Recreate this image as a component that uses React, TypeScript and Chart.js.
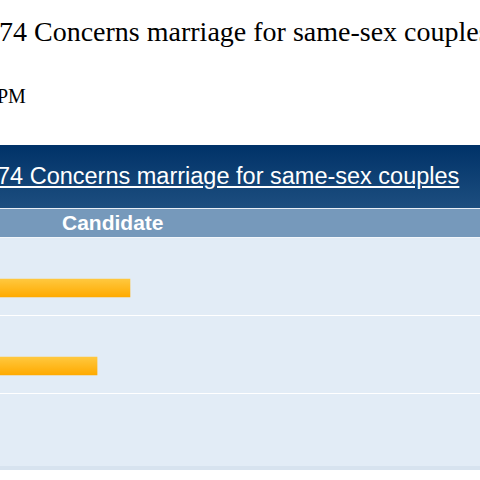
import React, { useEffect, useRef } from "react";
import { Chart, registerables } from "chart.js";

Chart.register(...registerables);

const pageTitle = "74 Concerns marriage for same-sex couples";
const timeLabel = "PM";
const tableTitle = "74 Concerns marriage for same-sex couples";
const columnHeader = "Candidate";
const categories = ["Approved", "Rejected", "Total"];
const percentValues: (number | null)[] = [53.7, 46.3, null];

const rowPlugin = {
  id: "rowBackgrounds",
  beforeDatasetsDraw(chart: any) {
    const { ctx, scales } = chart;
    const y = scales.y;
    ctx.save();
    for (let i = 0; i < categories.length; i++) {
      const c = y.getPixelForValue(i);
      ctx.fillStyle = "#e2ecf6";
      ctx.fillRect(0, c - 50, chart.width, 78);
      ctx.fillStyle = "#ffffff";
      if (i < categories.length - 1) ctx.fillRect(0, c + 27, chart.width, 1.5);
      else {
        ctx.fillStyle = "#d7e3ef";
        ctx.fillRect(0, c + 22, chart.width, 4);
        ctx.fillStyle = "#ffffff";
        ctx.fillRect(0, c + 26, chart.width, 40);
      }
    }
    ctx.restore();
  },
};

export default function App() {
  const ref = useRef<HTMLCanvasElement | null>(null);
  useEffect(() => {
    if (!ref.current) return;
    const chart = new Chart(ref.current, {
      type: "bar",
      data: {
        labels: categories,
        datasets: [
          {
            data: percentValues,
            barThickness: 18,
            borderWidth: 0,
            backgroundColor: (ctx: any) => {
              const ch = ctx.chart;
              const ys = ch.scales && ch.scales.y;
              if (!ys || ctx.dataIndex === undefined) return "#ffb400";
              const c = ys.getPixelForValue(ctx.dataIndex);
              if (!Number.isFinite(c)) return "#ffb400";
              const g = ch.ctx.createLinearGradient(0, c - 9, 0, c + 9);
              g.addColorStop(0, "#ffc83f");
              g.addColorStop(1, "#ffaa00");
              return g;
            },
          },
        ],
      },
      options: {
        indexAxis: "y",
        animation: false,
        responsive: false,
        devicePixelRatio: 1,
        layout: { padding: { top: 11, right: 144, left: 0, bottom: 0 } },
        plugins: { legend: { display: false }, tooltip: { enabled: false } },
        scales: {
          x: { display: false, min: 0, max: 100 },
          y: { display: false, offset: true },
        },
      },
      plugins: [rowPlugin],
    });
    chart.update();
    return () => chart.destroy();
  }, []);

  return (
    <div
      style={{
        position: "fixed",
        left: 0,
        top: 0,
        width: 480,
        height: 480,
        overflow: "hidden",
        background: "#ffffff",
      }}
    >
      <div
        style={{
          position: "absolute",
          left: -1,
          top: 14,
          whiteSpace: "nowrap",
          fontFamily: "'Liberation Serif', serif",
          fontSize: 28,
          color: "#000",
          lineHeight: "36px",
        }}
      >
        {pageTitle}
      </div>
      <div
        style={{
          position: "absolute",
          left: -3,
          top: 84,
          whiteSpace: "nowrap",
          fontFamily: "'Liberation Serif', serif",
          fontSize: 20,
          color: "#000",
          lineHeight: "24px",
        }}
      >
        {timeLabel}
      </div>
      <div
        style={{
          position: "absolute",
          left: 0,
          top: 145,
          width: 480,
          height: 63,
          background: "linear-gradient(#003268, #1d4e7f)",
        }}
      />
      <div
        style={{
          position: "absolute",
          left: -3,
          top: 160,
          whiteSpace: "nowrap",
          fontFamily: "'Liberation Sans', Arial, sans-serif",
          fontSize: 23.5,
          color: "#ffffff",
          textDecoration: "underline",
          lineHeight: "32px",
        }}
      >
        {tableTitle}
      </div>
      <div style={{ position: "absolute", left: 0, top: 208, width: 480, height: 1, background: "#e8eef5" }} />
      <div
        style={{
          position: "absolute",
          left: 0,
          top: 209,
          width: 480,
          height: 28,
          background: "#7699bb",
        }}
      />
      <div
        style={{
          position: "absolute",
          left: 62,
          top: 209,
          whiteSpace: "nowrap",
          fontFamily: "'Liberation Sans', Arial, sans-serif",
          fontWeight: "bold",
          fontSize: 21,
          color: "#ffffff",
          lineHeight: "28px",
        }}
      >
        {columnHeader}
      </div>
      <div style={{ position: "absolute", left: 0, top: 237, width: 480, height: 1, background: "#f2f6fa" }} />
      <canvas
        ref={ref}
        width={589}
        height={245}
        style={{ position: "absolute", left: -109, top: 238, width: 589, height: 245 }}
      />
    </div>
  );
}
